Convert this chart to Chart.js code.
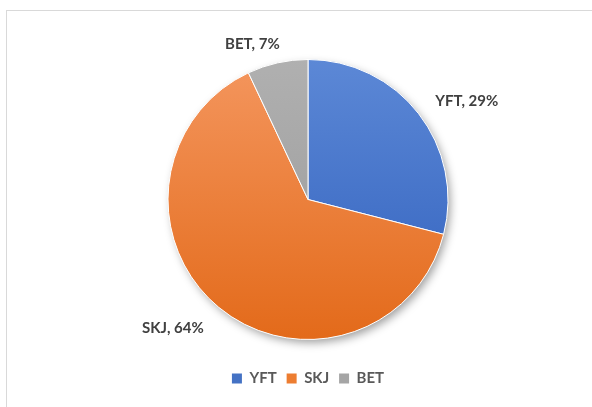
<!DOCTYPE html>
<html>
<head>
<meta charset="utf-8">
<script src="https://cdn.jsdelivr.net/npm/chart.js@4"></script>
<style>
  html, body { margin: 0; padding: 0; background: #fff; overflow: hidden; }
  #frame { position: absolute; left: 6px; top: 10px; width: 620px; height: 440px; border: 1px solid #d9d9d9; }
  #wrap { position: absolute; left: 0; top: 0; width: 592px; height: 407px; }
</style>
</head>
<body>
<div id="frame"></div>
<div id="wrap"><canvas id="pie"></canvas></div>
<script>
// ── Species share pie ──
const species = ['YFT', 'SKJ', 'BET'];
const shares = [29, 64, 7];

// light (top) / dark (bottom) shade per slice
const topColors = ['#5C88D6', '#F4965E', '#B0B0B0'];
const bottomColors = ['#3060BD', '#E36A1A', '#989898'];
const legendColors = ['#4472C4', '#ED7D31', '#A5A5A5'];

const PIE_RADIUS = 140;

function sliceFill(ctx) {
  const chart = ctx.chart;
  const area = chart.chartArea;
  if (!area) return legendColors[ctx.dataIndex];
  const cy = (area.top + area.bottom) / 2;
  const g = chart.ctx.createLinearGradient(0, cy - PIE_RADIUS, 0, cy + PIE_RADIUS);
  g.addColorStop(0, topColors[ctx.dataIndex]);
  g.addColorStop(1, bottomColors[ctx.dataIndex]);
  return g;
}

// soft drop shadow under the whole pie
const pieShadow = {
  id: 'pieShadow',
  beforeDatasetsDraw(chart) {
    const arc = chart.getDatasetMeta(0).data[0];
    if (!arc) return;
    const c = chart.ctx;
    c.save();
    c.shadowColor = 'rgba(0,0,0,0.4)';
    c.shadowBlur = 10;
    c.shadowOffsetX = 3;
    c.shadowOffsetY = 4;
    c.fillStyle = '#ffffff';
    c.beginPath();
    c.arc(arc.x, arc.y, arc.outerRadius - 1, 0, Math.PI * 2);
    c.fill();
    c.restore();
  }
};

// "NAME, xx%" labels outside the slices
const outsideLabels = {
  id: 'outsideLabels',
  afterDatasetsDraw(chart, args, opts) {
    const c = chart.ctx;
    const meta = chart.getDatasetMeta(0);
    c.save();
    c.font = opts.font;
    c.fillStyle = opts.color;
    c.textAlign = 'center';
    c.textBaseline = 'middle';
    meta.data.forEach((arc, i) => {
      const mid = (arc.startAngle + arc.endAngle) / 2;
      const r = arc.outerRadius * 1.2;
      const n = opts.nudge[i] || [0, 0];
      const x = arc.x + Math.cos(mid) * r + n[0];
      const y = arc.y + Math.sin(mid) * r + n[1];
      c.fillText(`${species[i]}, ${shares[i]}%`, x, y);
    });
    c.restore();
  }
};

new Chart(document.getElementById('pie'), {
  type: 'pie',
  data: {
    labels: species,
    datasets: [{
      data: shares,
      backgroundColor: sliceFill,
      borderColor: '#ffffff',
      borderWidth: 1
    }]
  },
  options: {
    responsive: true,
    maintainAspectRatio: false,
    animation: false,
    radius: PIE_RADIUS,
    layout: { padding: { top: 38, bottom: 11, left: 24, right: 0 } },
    plugins: {
      legend: {
        display: true,
        position: 'bottom',
        labels: {
          color: '#595959',
          font: { size: 15, weight: 'bold', family: 'Lato' },
          boxWidth: 10,
          boxHeight: 10,
          padding: 10,
          generateLabels: (chart) => species.map((s, i) => ({
            text: s,
            fillStyle: legendColors[i],
            strokeStyle: legendColors[i],
            lineWidth: 0,
            fontColor: '#595959',
            index: i
          }))
        }
      },
      tooltip: { enabled: false },
      outsideLabels: {
        font: 'bold 15px Lato',
        color: '#404040',
        nudge: [[26, 5], [-28, -1], [-19, 9]]
      }
    }
  },
  plugins: [pieShadow, outsideLabels]
});
</script>
</body>
</html>
